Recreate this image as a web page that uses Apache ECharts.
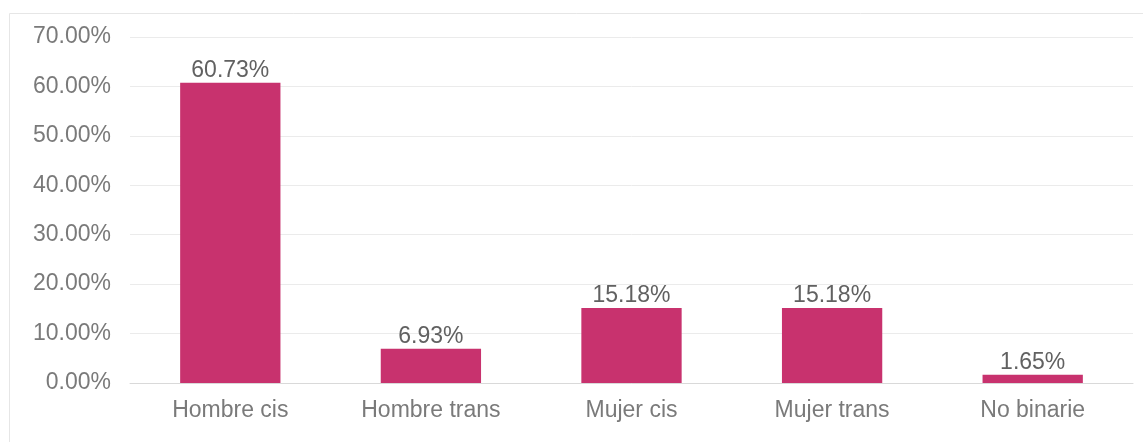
<!DOCTYPE html>
<html>
<head>
<meta charset="utf-8">
<script src="https://cdn.jsdelivr.net/npm/echarts@6/dist/echarts.min.js"></script>
<style>
html,body{margin:0;padding:0;background:#fff;}
#c{width:1143px;height:442px;}
</style>
</head>
<body>
<div id="c"></div>
<script>
const categories = ['Hombre cis', 'Hombre trans', 'Mujer cis', 'Mujer trans', 'No binarie'];
const values = [60.73, 6.93, 15.18, 15.18, 1.65];
const yTicks = [0, 10, 20, 30, 40, 50, 60, 70];

const chart = echarts.init(document.getElementById('c'), null, {renderer: 'canvas'});
const font = '"Liberation Sans", Arial, sans-serif';
chart.setOption({
  animation: false,
  backgroundColor: '#fff',
  graphic: [{
    type: 'rect', left: 7, top: 11, z: -1,
    shape: {width: 1150, height: 450},
    style: {fill: 'none', stroke: '#e6e6e6', lineWidth: 1}
  }],
  grid: {left: 130, right: 10, top: 37, bottom: 59, containLabel: false},
  xAxis: {
    type: 'category',
    data: categories,
    axisTick: {show: false},
    axisLine: {show: true, lineStyle: {color: '#d9d9d9', width: 1}},
    axisLabel: {color: '#7a7a7a', fontSize: 23, fontFamily: font, margin: 16}
  },
  yAxis: {
    type: 'value',
    min: yTicks[0],
    max: yTicks[yTicks.length - 1],
    interval: 10,
    axisLine: {show: false},
    axisTick: {show: false},
    splitLine: {lineStyle: {color: '#ebebeb', width: 1}},
    axisLabel: {
      color: '#7a7a7a', fontSize: 23, fontFamily: font, margin: 19,
      formatter: v => v.toFixed(2) + '%'
    }
  },
  series: [{
    type: 'bar',
    data: values,
    barWidth: '50%',
    itemStyle: {color: '#c8326e'},
    label: {
      show: true, position: 'top', distance: 1,
      color: '#616161', fontSize: 23, fontFamily: font,
      formatter: p => p.value.toFixed(2) + '%'
    }
  }]
});
</script>
</body>
</html>
